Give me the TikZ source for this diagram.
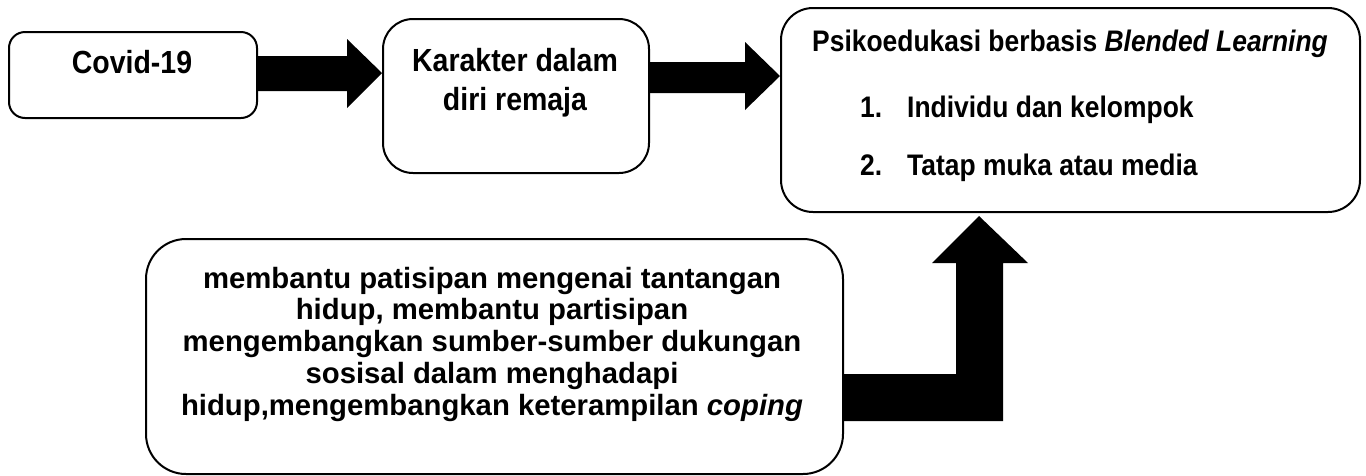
\documentclass[tikz,border=0pt]{standalone}
\usepackage{fontspec}
\setmainfont{Liberation Sans}
\newfontfamily\tallfont[FakeStretch=0.89]{Liberation Sans}
\begin{document}
\begin{tikzpicture}[x=1pt,y=-1pt,
  box/.style={draw=black, line width=2pt, fill=white, anchor=north west, inner sep=0pt},
  txtA/.style={font=\tallfont\bfseries\fontsize{32}{39}\selectfont, inner sep=0pt, align=center},
  txtB/.style={font=\tallfont\bfseries\fontsize{29.7}{30}\selectfont, inner sep=0pt},
  txtC/.style={font=\bfseries\fontsize{29.3}{31.8}\selectfont, inner sep=0pt, align=center},
  blk/.style={fill=black}]
\useasboundingbox (0,0) rectangle (1366,475);
% boxes
\node[box, rounded corners=16pt, minimum width=248pt, minimum height=86pt] (b1) at (8,31) {};
\node[box, rounded corners=30pt, minimum width=266pt, minimum height=154pt] (b2) at (382,18) {};
\node[box, rounded corners=32pt, minimum width=579pt, minimum height=204pt] (b3) at (780,7) {};
\node[box, rounded corners=40pt, minimum width=697pt, minimum height=235pt] (b4) at (145,238) {};
% texts
\node[txtA, anchor=base] (t1) at (132,73) {Covid-19};
\node[txtA, anchor=north] (t2) at (515,47.7) {Karakter dalam\\diri remaja};
\node[txtB, anchor=base] (t3) at (1070,51) {Psikoedukasi berbasis \textit{Blended Learning}};
\node[txtB, anchor=base west] (t4) at (860,117) {\makebox[47pt][l]{1.}Individu dan kelompok};
\node[txtB, anchor=base west] (t5) at (860,175) {\makebox[47pt][l]{2.}Tatap muka atau media};
\node[txtC, anchor=north] (t6) at (492,266.6) {membantu patisipan mengenai tantangan\\hidup, membantu partisipan\\mengembangkan sumber-sumber dukungan\\sosisal dalam menghadapi\\hidup,mengembangkan keterampilan \textit{coping}};
% block arrows
\fill[blk] (b1.east |- 0,56) -- (347,56) -- (347,39) -- (b2.west |- 0,73)
  -- (347,108) -- (347,91) -- (b1.east |- 0,91) -- cycle;
\fill[blk] (b2.east |- 0,62) -- (745,62) -- (745,42) -- (b3.west |- 0,76)
  -- (745,110) -- (745,93) -- (b2.east |- 0,93) -- cycle;
\fill[blk] (b4.east |- 0,374) -- (956,374) -- (956,263) -- (932,263)
  -- (979,216) -- (1028,263) -- (1003,263) -- (1003,421) -- (b4.east |- 0,421) -- cycle;
\end{tikzpicture}
\end{document}
